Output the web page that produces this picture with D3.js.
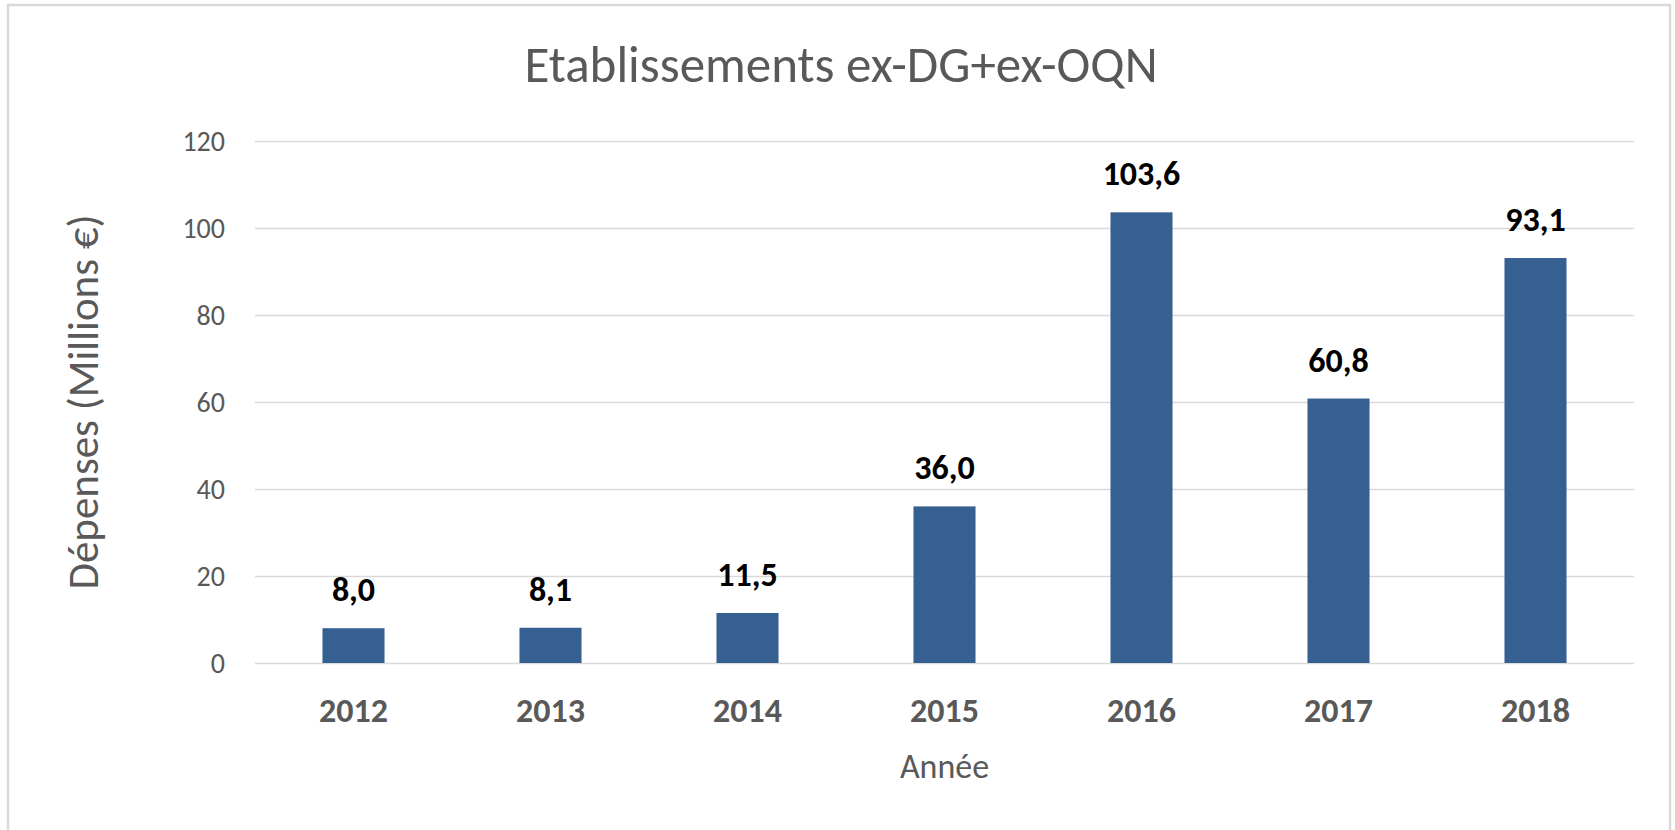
<!DOCTYPE html>
<html>
<head>
<meta charset="utf-8">
<script src="https://cdn.jsdelivr.net/npm/d3@7"></script>
<style>
  html, body { margin: 0; padding: 0; background: #fff; }
  svg { display: block; font-family: Calibri, Carlito, Lato, sans-serif; }
  .tick-label { fill: #595959; font-size: 28px; }
  .cat-label { fill: #595959; font-size: 34px; font-weight: bold; }
  .value-label { fill: #000; font-size: 34px; font-weight: bold; }
  .axis-title { fill: #595959; }
</style>
</head>
<body>
<div id="chart"></div>
<script>
// données
const years = ["2012", "2013", "2014", "2015", "2016", "2017", "2018"];
const depenses = [8.0, 8.1, 11.5, 36.0, 103.6, 60.8, 93.1];
const yTicks = [0, 20, 40, 60, 80, 100, 120];

const W = 1675, H = 830;
const plot = { left: 255, right: 1634, top: 141, bottom: 663 };

const svg = d3.select("#chart")
    .append("svg")
    .attr("width", W)
    .attr("height", H);

// cadre du graphique
svg.append("rect")
    .attr("x", 8)
    .attr("y", 5)
    .attr("width", 1662)
    .attr("height", 900)
    .attr("fill", "#fff")
    .attr("stroke", "#d9d9d9")
    .attr("stroke-width", 2.5);

const x = d3.scaleBand()
    .domain(years)
    .range([plot.left, plot.right])
    .paddingInner(0.685)
    .paddingOuter(0.3425);

const y = d3.scaleLinear()
    .domain([0, 120])
    .range([plot.bottom, plot.top]);

const fr = d3.formatLocale({ decimal: ",", thousands: " ", grouping: [3], currency: ["", " €"] });
const fmt = fr.format(".1f");

// grille + axe y
const yAxis = svg.append("g")
    .attr("transform", `translate(${plot.left},0)`)
    .call(d3.axisLeft(y).tickValues(yTicks).tickSize(-(plot.right - plot.left)).tickPadding(30))
    .attr("font-family", null)
    .attr("font-size", null);
yAxis.select(".domain").remove();
yAxis.selectAll(".tick line")
    .attr("stroke", "#d9d9d9")
    .attr("stroke-width", 1.5);
yAxis.selectAll(".tick text")
    .attr("class", "tick-label")
    .attr("fill", null)
    .attr("dy", "0.35em");

// barres
svg.append("g")
    .selectAll("rect")
    .data(depenses)
    .join("rect")
    .attr("x", (d, i) => x(years[i]))
    .attr("y", d => y(d))
    .attr("width", x.bandwidth())
    .attr("height", d => y(0) - y(d))
    .attr("fill", "#376092");

// étiquettes de valeur
svg.append("g")
    .selectAll("text")
    .data(depenses)
    .join("text")
    .attr("class", "value-label")
    .attr("x", (d, i) => x(years[i]) + x.bandwidth() / 2)
    .attr("y", d => y(d) - 27)
    .attr("text-anchor", "middle")
    .text(d => fmt(d));

// axe x
const xAxis = svg.append("g")
    .attr("transform", `translate(0,${plot.bottom})`)
    .call(d3.axisBottom(x).tickSize(0).tickPadding(0))
    .attr("font-family", null)
    .attr("font-size", null);
xAxis.select(".domain").remove();
xAxis.selectAll(".tick text")
    .attr("class", "cat-label")
    .attr("fill", null)
    .attr("dy", null)
    .attr("y", 59);

// titres
svg.append("text")
    .attr("class", "axis-title")
    .attr("x", 841)
    .attr("y", 82)
    .attr("text-anchor", "middle")
    .style("font-size", "51px")
    .text("Etablissements ex-DG+ex-OQN");

svg.append("text")
    .attr("class", "axis-title")
    .attr("x", (plot.left + plot.right) / 2)
    .attr("y", 778)
    .attr("text-anchor", "middle")
    .style("font-size", "34px")
    .text("Année");

svg.append("text")
    .attr("class", "axis-title")
    .attr("transform", `translate(98,${(plot.top + plot.bottom) / 2}) rotate(-90)`)
    .attr("text-anchor", "middle")
    .style("font-size", "43px")
    .text("Dépenses (Millions €)");
</script>
</body>
</html>
